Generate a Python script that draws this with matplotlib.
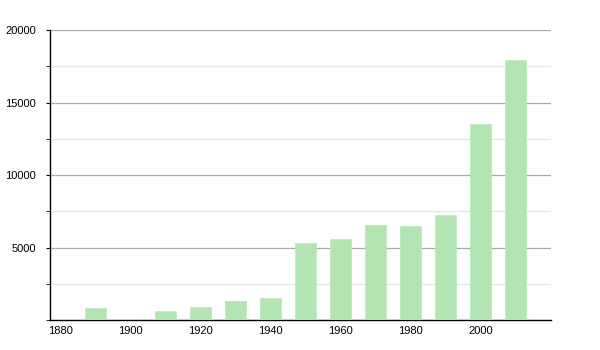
import matplotlib.pyplot as plt
from matplotlib.ticker import MultipleLocator

plt.rcParams['font.family'] = ['Liberation Sans', 'DejaVu Sans']

# population by census year
years = [1890, 1900, 1910, 1920, 1930, 1940, 1950, 1960, 1970, 1980, 1990, 2000, 2010]
population = [850, 0, 620, 920, 1310, 1540, 5330, 5590, 6550, 6480, 7240, 13520, 17930]
tick_years = [1880, 1900, 1920, 1940, 1960, 1980, 2000]
tick_pop = [5000, 10000, 15000, 20000]

fig = plt.figure(figsize=(6, 3.5), dpi=100)
ax = fig.add_axes([0.0833, 0.0857, 0.835, 0.828])

ax.bar(years, population, width=6, color='#b3e5b3', edgecolor='#bde6bd', linewidth=0.5, zorder=3)

ax.set_xlim(1877, 2020)
ax.set_ylim(0, 20000)
ax.set_xticks(tick_years)
ax.set_yticks(tick_pop)
ax.yaxis.set_minor_locator(MultipleLocator(2500))

ax.grid(axis='y', which='major', color='#aaaaaa', linewidth=0.9, zorder=0)
ax.grid(axis='y', which='minor', color='#e6e6e6', linewidth=0.9, zorder=0)

for s in ['top', 'right']:
    ax.spines[s].set_visible(False)
ax.spines['left'].set_linewidth(1.0)
ax.spines['bottom'].set_linewidth(1.0)

ax.tick_params(axis='x', length=0, labelsize=8, pad=4)
ax.tick_params(axis='y', which='major', length=3, labelsize=8, pad=7)
ax.tick_params(axis='y', which='minor', length=3)

plt.savefig('out.png', dpi=100)
